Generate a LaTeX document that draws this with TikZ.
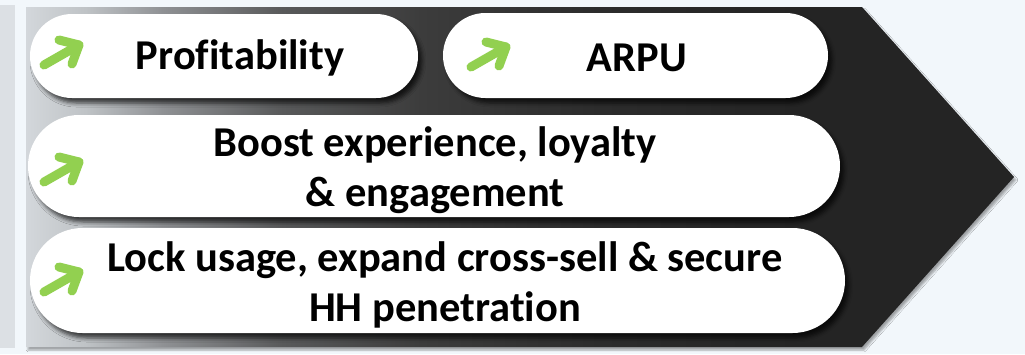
\documentclass[tikz,border=0pt]{standalone}
\usepackage{fontspec}
\setmainfont[Ligatures=NoCommon]{Carlito}
\usetikzlibrary{shapes.misc,shadows.blur}

\definecolor{pagebg}{HTML}{F2F7FB}
\definecolor{stripgray}{HTML}{DCE0E4}
\definecolor{upgreen}{HTML}{92D050}
\definecolor{shA}{HTML}{D3D7DB}
\definecolor{shB}{HTML}{BFC3C6}
\definecolor{shC}{HTML}{8E9093}
\definecolor{shD}{HTML}{58595A}
\definecolor{shE}{HTML}{3C3C3C}
\definecolor{shF}{HTML}{2C2C2C}
\definecolor{shG}{HTML}{242424}
\pgfdeclarehorizontalshading{arrowshade}{100bp}{color(0bp)=(shA); color(25bp)=(shA); color(28bp)=(shB); color(32bp)=(shC); color(38bp)=(shD); color(45bp)=(shE); color(54bp)=(shF); color(64bp)=(shG); color(100bp)=(shG)}

\begin{document}
\begin{tikzpicture}[x=1pt, y=-1pt,
    pill/.style={rounded rectangle, fill=white, inner sep=0pt,
      blur shadow={shadow xshift=4pt, shadow yshift=-5pt, shadow opacity=70, shadow blur radius=4pt}},
    lbl/.style={font=\fontsize{42.5}{50}\selectfont\bfseries, align=center, inner sep=0pt},
    growarrow/.style={draw=upgreen, line width=9pt, line cap=round, line join=round}]
  % 1. page and left strip
  \useasboundingbox (0,0) rectangle (1025,354);
  \fill[pagebg] (0,0) rectangle (1025,354);
  \fill[stripgray] (0,5) rectangle (15,348);

  % 2. big arrow (shaded)
  \path[shading=arrowshade, blur shadow={shadow xshift=2pt, shadow yshift=-3pt, shadow opacity=35}]
    (26,7) -- (862,7) -- (1014,177) -- (862,347) -- (26,347) -- cycle;

  % 3. pills
  \node[pill, minimum width=388pt, minimum height=84pt] (prof) at (224,56) {};
  \node[pill, minimum width=385pt, minimum height=85pt] (arpu) at (635.5,55.5) {};
  \node[pill, minimum width=812pt, minimum height=102pt] (boost) at (434,166) {};
  \node[pill, minimum width=815pt, minimum height=105pt] (lock) at (437.5,280.5) {};

  % 4. texts
  \node[lbl] (proftxt) at (240,58) {Profitability};
  \node[lbl] (arputxt) at (637,58) {ARPU};
  \node[lbl] (boosttxt) at (435,170) {Boost experience, loyalty\\\& engagement};
  \node[lbl] (locktxt) at (445,285) {Lock usage, expand cross-sell \& secure\\HH penetration};

  % 5. green up arrows
  \foreach \n/\tx/\ty in {prof/44/65, arpu/471/67, boost/44/182, lock/44/292} {
    \coordinate (t\n) at (\tx,\ty);
    \draw[growarrow] (t\n) -- ++(35,-20) coordinate (h\n);
    \draw[growarrow] (h\n) ++(-20,-5) -- (h\n) -- ++(-7,19);
  }
\end{tikzpicture}
\end{document}
